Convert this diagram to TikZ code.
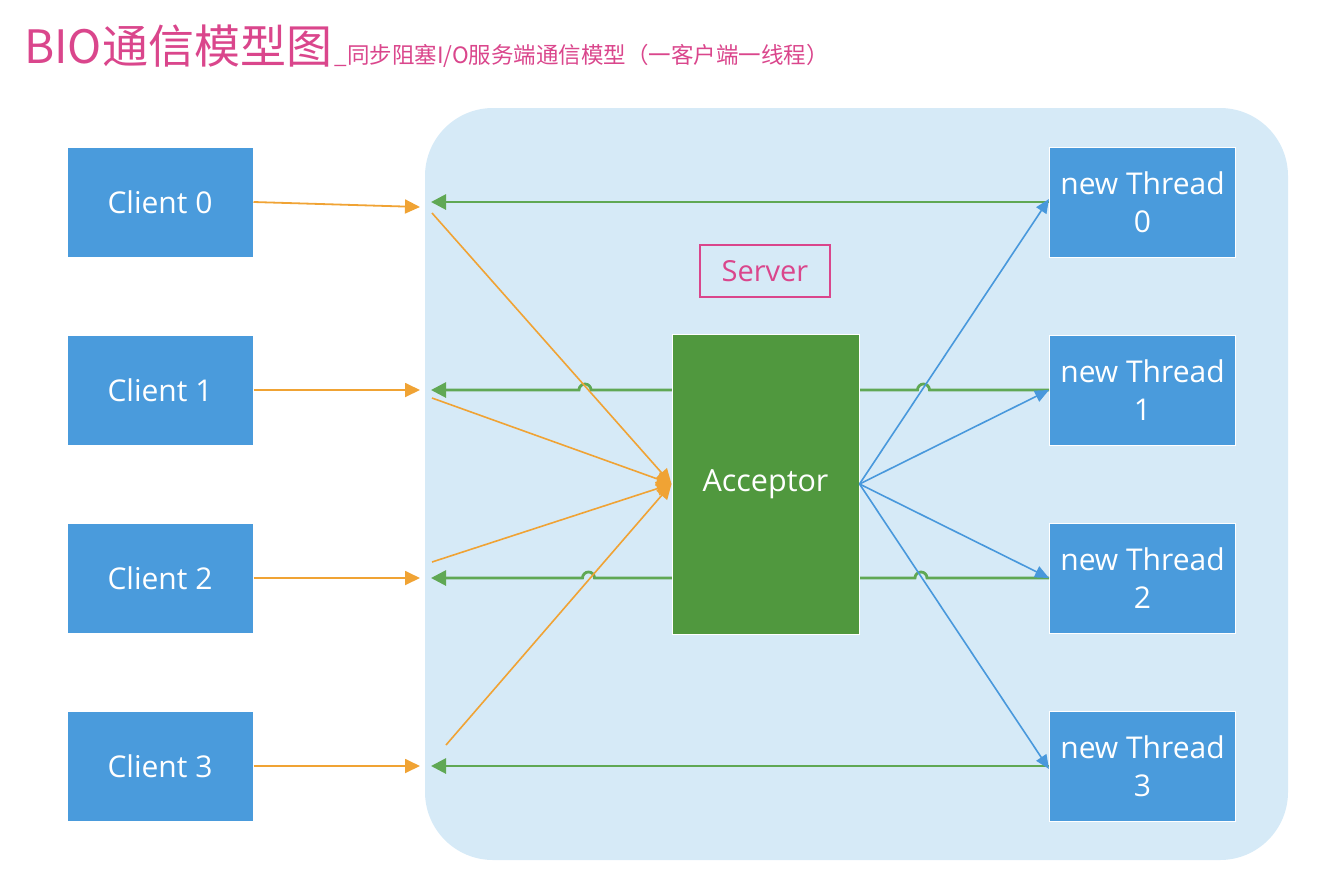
\documentclass[tikz,border=0pt]{standalone}
\usepackage{fontspec}
\setmainfont{Open Sans}
\newfontfamily\cjk{Noto Sans CJK SC}
\usetikzlibrary{arrows.meta}
\definecolor{boxblue}{RGB}{74,155,220}
\definecolor{accgreen}{RGB}{80,152,62}
\definecolor{srvbg}{RGB}{214,234,247}
\definecolor{orangeln}{RGB}{240,163,52}
\definecolor{greenln}{RGB}{96,168,84}
\definecolor{blueln}{RGB}{72,152,220}
\definecolor{pinkc}{RGB}{218,70,140}
\tikzset{
  cbox/.style={fill=boxblue, draw=white, line width=1pt, text=white, minimum width=186pt, minimum height=110pt, inner sep=0pt, font=\fontsize{30}{38}\selectfont, align=center},
  accbox/.style={fill=accgreen, draw=white, line width=1pt, text=white, minimum width=187pt, minimum height=300pt, inner sep=0pt, font=\fontsize{30.5}{36}\selectfont},
  srvlabel/.style={draw=pinkc, line width=1.6pt, text=pinkc, minimum width=130pt, minimum height=52pt, inner sep=0pt, font=\fontsize{29}{32}\selectfont},
  orangearr/.style={draw=orangeln, line width=1.8pt, -{Triangle[length=15pt,width=14pt]}},
  orangeline/.style={draw=orangeln, line width=1.6pt, -{Triangle[length=15pt,width=14pt]}},
  greenarr/.style={draw=greenln, line width=2.8pt, -{Triangle[length=15pt,width=15pt]}},
  bluearr/.style={draw=blueln, line width=1.6pt, -{Triangle[length=14pt,width=12pt]}},
}
\begin{document}
\begin{tikzpicture}[x=1pt,y=-1pt]
\useasboundingbox (0,0) rectangle (1320,892);
% title
\node[anchor=base west, inner sep=0pt, text=pinkc, font=\cjk\fontsize{46}{50}\selectfont] (title) at (24,63) {BIO通信模型图};
\node[anchor=base west, inner sep=0pt, text=pinkc, font=\cjk\fontsize{22.5}{26}\selectfont] (subtitle) at ([xshift=2pt]title.base east) {\_同步阻塞I/O服务端通信模型（一客户端一线程）};
% server background
\fill[srvbg, rounded corners=68pt] (425,108) rectangle (1288,860);
\node[srvlabel] (srv) at (765,271) {Server};
% clients
\node[cbox] (c0) at (160,202) {Client 0};
\node[cbox] (c1) at (160,390) {Client 1};
\node[cbox] (c2) at (160,578) {Client 2};
\node[cbox] (c3) at (160,766) {Client 3};
% threads
\node[cbox] (t0) at (1142.5,202) {new Thread\\0};
\node[cbox] (t1) at (1142.5,390) {new Thread\\1};
\node[cbox] (t2) at (1142.5,578) {new Thread\\2};
\node[cbox] (t3) at (1142.5,766) {new Thread\\3};
% coordinates
\coordinate (a0) at (420,207);
\coordinate (a1) at (420,390);
\coordinate (a2) at (420,578);
\coordinate (a3) at (420,766);
\coordinate (g0) at (431,202);
\coordinate (g1) at (431,390);
\coordinate (g2) at (431,578);
\coordinate (g3) at (431,766);
\coordinate (o0) at (432,213);
\coordinate (o1) at (432,398);
\coordinate (o2) at (432,562);
\coordinate (o3) at (446,745);
% green return lines (behind acceptor)
\draw[greenarr] (t0.west) -- (g0);
\draw[greenarr] (t1.west) -- (929.5,390) arc[start angle=0,end angle=-180,radius=6] -- (591,390) arc[start angle=0,end angle=-180,radius=6] -- (g1);
\draw[greenarr] (t2.west) -- (927,578) arc[start angle=0,end angle=-180,radius=6] -- (594.5,578) arc[start angle=0,end angle=-180,radius=6] -- (g2);
\draw[greenarr] (t3.west) -- (g3);
% acceptor
\node[accbox] (acc) at (765.5,484) {Acceptor};
% client to server
\draw[orangearr] (c0.east) -- (a0);
\draw[orangearr] (c1.east) -- (a1);
\draw[orangearr] (c2.east) -- (a2);
\draw[orangearr] (c3.east) -- (a3);
% into acceptor
\draw[orangeline] (o0) -- (acc.west);
\draw[orangeline] (o1) -- (acc.west);
\draw[orangeline] (o2) -- (acc.west);
\draw[orangeline] (o3) -- (acc.west);
% acceptor to threads
\draw[bluearr] (acc.east) -- ([yshift=3pt]t0.west);
\draw[bluearr] (acc.east) -- (t1.west);
\draw[bluearr] (acc.east) -- (t2.west);
\draw[bluearr] (acc.east) -- ([yshift=-3pt]t3.west);
\end{tikzpicture}
\end{document}
